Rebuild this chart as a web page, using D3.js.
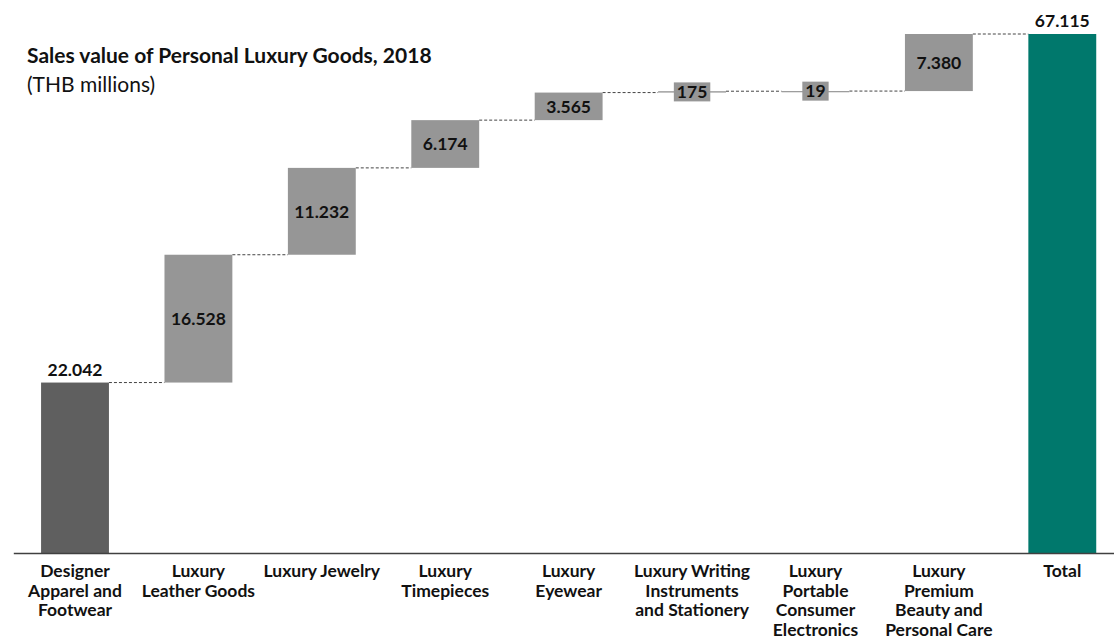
<!DOCTYPE html>
<html>
<head>
<meta charset="utf-8">
<script src="https://cdn.jsdelivr.net/npm/d3@7"></script>
<style>
  html, body { margin: 0; padding: 0; background: #fff; }
  svg { display: block; font-family: Lato, "Open Sans", sans-serif; }
</style>
</head>
<body>
<svg id="chart" width="1114" height="642"></svg>
<script>
// Sales value of personal luxury goods by category (THB millions)
const categories = [
  "Designer Apparel and Footwear",
  "Luxury Leather Goods",
  "Luxury Jewelry",
  "Luxury Timepieces",
  "Luxury Eyewear",
  "Luxury Writing Instruments and Stationery",
  "Luxury Portable Consumer Electronics",
  "Luxury Premium Beauty and Personal Care",
  "Total"
];
const categoryLines = [
  ["Designer", "Apparel and", "Footwear"],
  ["Luxury", "Leather Goods"],
  ["Luxury Jewelry"],
  ["Luxury", "Timepieces"],
  ["Luxury", "Eyewear"],
  ["Luxury Writing", "Instruments", "and Stationery"],
  ["Luxury", "Portable", "Consumer", "Electronics"],
  ["Luxury", "Premium", "Beauty and", "Personal Care"],
  ["Total"]
];
const values = [22042, 16528, 11232, 6174, 3565, 175, 19, 7380, 67115];
const barKinds = ["start", "step", "step", "step", "step", "step", "step", "step", "total"];

const fmt = v => d3.format(",")(v).replace(/,/g, ".");

const svg = d3.select("#chart");
const baseY = 553, topY = 34;

const x = d3.scaleBand()
  .domain(categories)
  .range([13.3, 1124])
  .paddingInner(0.45)
  .paddingOuter(0.225);

const y = d3.scaleLinear()
  .domain([0, 67115])
  .range([baseY, topY]);

// Running totals for the waterfall
let run = 0;
const bars = categories.map((c, i) => {
  let y0, y1;
  if (barKinds[i] === "step") { y0 = run; y1 = run + values[i]; run = y1; }
  else { y0 = 0; y1 = values[i]; run = values[i]; }
  return { cat: c, kind: barKinds[i], v: values[i], y0, y1 };
});

const fill = { start: "#5f5f5f", step: "#969696", total: "#00786c" };

// Dashed connectors between consecutive bars
svg.append("g").selectAll("line")
  .data(bars.slice(0, -1))
  .join("line")
  .attr("x1", (d) => x(d.cat) + x.bandwidth())
  .attr("x2", (d, i) => x(bars[i + 1].cat))
  .attr("y1", d => y(d.y1))
  .attr("y2", d => y(d.y1))
  .attr("stroke", "#444")
  .attr("stroke-width", 1)
  .attr("stroke-dasharray", "3,2");

// Bars
svg.append("g").selectAll("rect")
  .data(bars)
  .join("rect")
  .attr("x", d => x(d.cat))
  .attr("width", x.bandwidth())
  .attr("y", d => y(d.y1))
  .attr("height", d => Math.max(1.2, y(d.y0) - y(d.y1)))
  .attr("fill", d => fill[d.kind]);

// Value labels
const labels = svg.append("g")
  .attr("font-weight", "bold")
  .attr("font-size", 17.5)
  .attr("fill", "#111");

bars.forEach(d => {
  const cx = x(d.cat) + x.bandwidth() / 2;
  if (d.kind !== "step") {
    labels.append("text")
      .attr("x", cx)
      .attr("y", y(d.y1) - 7)
      .attr("text-anchor", "middle")
      .text(fmt(d.v));
  } else {
    const cy = (y(d.y0) + y(d.y1)) / 2;
    const h = y(d.y0) - y(d.y1);
    const g = labels.append("g");
    const t = g.append("text")
      .attr("x", cx)
      .attr("y", cy)
      .attr("dy", "0.36em")
      .attr("text-anchor", "middle")
      .text(fmt(d.v));
    if (h < 20) {
      const bb = t.node().getBBox();
      g.insert("rect", "text")
        .attr("x", bb.x - 3)
        .attr("width", bb.width + 6)
        .attr("y", cy - 9.5)
        .attr("height", 19)
        .attr("fill", fill.step);
    }
  }
});

// Category axis
const axis = svg.append("g")
  .attr("transform", `translate(0,${baseY})`)
  .call(d3.axisBottom(x).tickSize(0).tickSizeOuter(0));
axis.select(".domain")
  .attr("stroke", "#404040")
  .attr("stroke-width", 1.6);
axis.selectAll(".tick text").each(function (d, i) {
  const t = d3.select(this)
    .text(null)
    .attr("y", 0)
    .attr("dy", null)
    .attr("font-family", "Lato, sans-serif")
    .attr("font-size", 17.5)
    .attr("font-weight", "bold")
    .attr("fill", "#111");
  categoryLines[i].forEach((line, k) => {
    t.append("tspan")
      .attr("x", 0)
      .attr("y", 24 + k * 19.5)
      .text(line);
  });
});

// Title
svg.append("text")
  .attr("x", 27)
  .attr("y", 63)
  .attr("font-size", 21)
  .attr("font-weight", "bold")
  .attr("fill", "#111")
  .text("Sales value of Personal Luxury Goods, 2018");
svg.append("text")
  .attr("x", 27)
  .attr("y", 92)
  .attr("font-size", 21)
  .attr("fill", "#111")
  .text("(THB millions)");
</script>
</body>
</html>
